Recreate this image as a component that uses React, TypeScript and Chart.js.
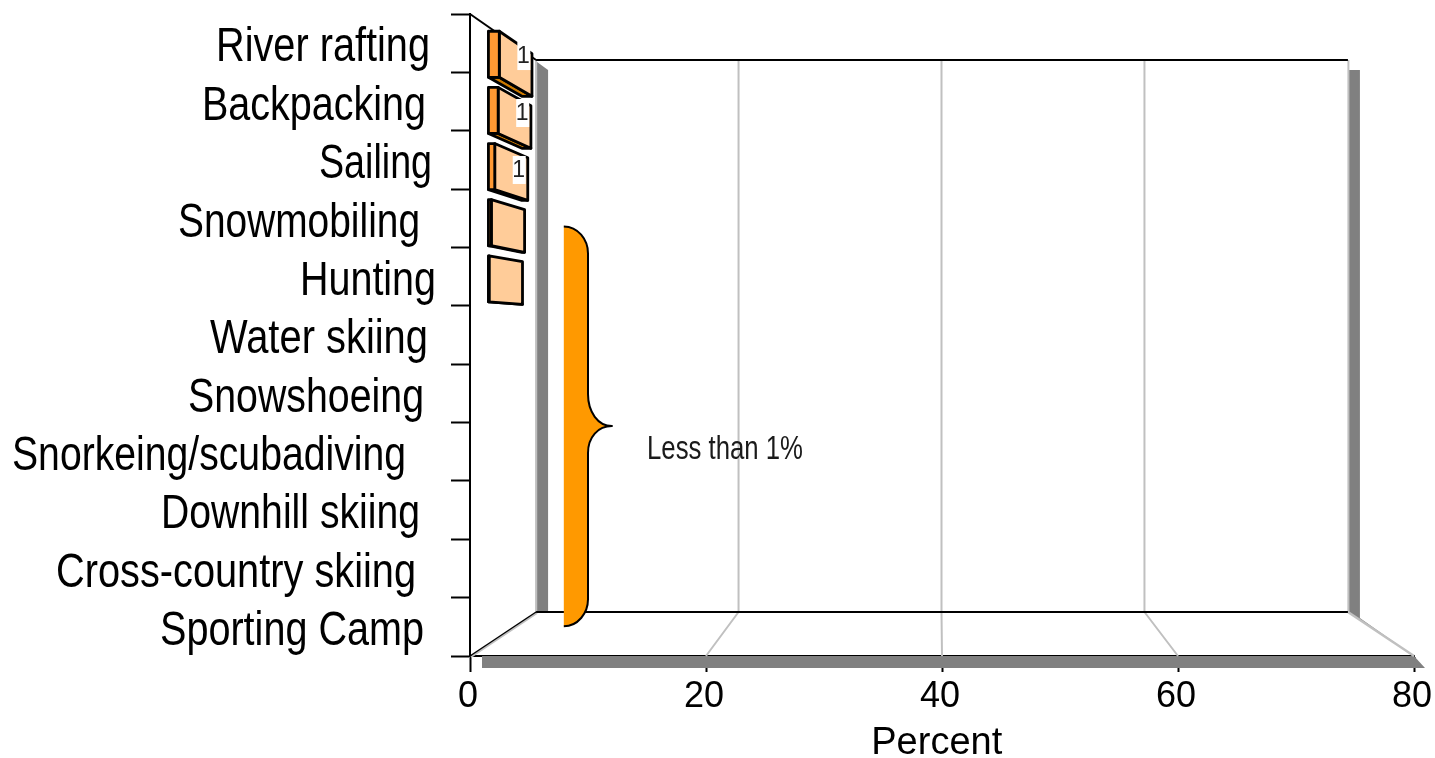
import React, { useEffect, useRef } from "react";
import { Chart, registerables } from "chart.js";

Chart.register(...registerables);

const categories = [
  "River rafting", "Backpacking", "Sailing", "Snowmobiling", "Hunting", "Water skiing",
  "Snowshoeing", "Snorkeing/scubadiving", "Downhill skiing", "Cross-country skiing", "Sporting Camp",
];
const percentValues = [1.0, 0.9, 0.6, 0.3, 0.1, 0, 0, 0, 0, 0, 0];
const xTickValues = [0, 20, 40, 60, 80];
const labelGaps = [40, 44, 38, 50, 34, 42, 46, 64, 50, 54, 46];
const labelWidths = [214, 224, 113, 242, 136, 218, 236, 394, 259, 360, 264];
const braceNote = "Less than 1%";
const axisTitle = "Percent";

const FONT = "'Liberation Sans', Arial, sans-serif";
const WALL_DEPTH = 0.86;
const BAR_FRONT = 0.962;
const BAR_BACK = 0.891;
const LABEL_DEPTH = 0.976;

const scenePlugin = {
  id: "scene",
  beforeDatasetsDraw(chart: any) {
    const { ctx, chartArea: a, scales } = chart;
    const x = scales.x;
    const vx = (a.left + a.right) / 2;
    const vy = (a.top + a.bottom) / 2;
    const bx = (p: number, s: number) => vx + (p - vx) * s;
    const by = (p: number, s: number) => vy + (p - vy) * s;
    const L = bx(a.left, WALL_DEPTH), R = bx(a.right, WALL_DEPTH);
    const T = Math.round(by(a.top, WALL_DEPTH)) + 1, B = Math.round(by(a.bottom, WALL_DEPTH)) + 1;
    ctx.save();
    const poly = (pts: number[][], fill: string) => {
      ctx.beginPath();
      pts.forEach((p, i) => (i ? ctx.lineTo(p[0], p[1]) : ctx.moveTo(p[0], p[1])));
      ctx.closePath();
      ctx.fillStyle = fill;
      ctx.fill();
    };
    const line = (pts: number[][], color: string, w: number) => {
      ctx.beginPath();
      pts.forEach((p, i) => (i ? ctx.lineTo(p[0], p[1]) : ctx.moveTo(p[0], p[1])));
      ctx.strokeStyle = color;
      ctx.lineWidth = w;
      ctx.stroke();
    };
    const dark = "#808080", light = "#C0C0C0";
    // drop shadows
    poly([[a.left + 12, a.bottom], [a.right, a.bottom], [a.right + 11, a.bottom + 12], [a.left + 12, a.bottom + 12]], dark);
    poly([[L + 1, T + 2], [L + 12, T + 10], [L + 12, B], [L + 1, B]], dark);
    poly([[R + 1, T + 10], [R + 12, T + 10], [R + 12, B + 6], [a.right, a.bottom], [R, B]], dark);
    // grid lines on the wall and the floor
    xTickValues.forEach((v) => {
      if (v === xTickValues[0] || v === xTickValues[xTickValues.length - 1]) return;
      const p = x.getPixelForValue(v);
      const q = bx(p, WALL_DEPTH) - 0.5;
      line([[q, T], [q, B], [p, a.bottom]], light, 2);
    });
    // wall edges
    line([[L, T], [L, B]], light, 2);
    line([[R + 0.5, T], [R + 0.5, B]], light, 2);
    line([[a.left + 1, a.bottom + 1], [L + 1, B + 1]], light, 2);
    line([[R, B], [a.right, a.bottom]], light, 2.5);
    line([[a.left, a.bottom], [L, B]], "#000", 1.5);
    line([[a.left, a.top], [L, T]], "#000", 2);
    line([[L, T], [R, T]], "#000", 2);
    line([[L, B], [R, B]], "#000", 2);
    ctx.restore();
  },
  afterDatasetsDraw(chart: any) {
    const { ctx, chartArea: a, scales } = chart;
    const x = scales.x, y = scales.y;
    const vx = (a.left + a.right) / 2;
    const vy = (a.top + a.bottom) / 2;
    const P = (px: number, py: number, s: number) => [vx + (px - vx) * s, vy + (py - vy) * s];
    ctx.save();
    const face = (pts: number[][], fill: string) => {
      ctx.beginPath();
      pts.forEach((p, i) => (i ? ctx.lineTo(p[0], p[1]) : ctx.moveTo(p[0], p[1])));
      ctx.closePath();
      ctx.fillStyle = fill;
      ctx.fill();
      ctx.strokeStyle = "#000";
      ctx.lineWidth = 2.8;
      ctx.lineJoin = "round";
      ctx.stroke();
    };
    const bars = chart.getDatasetMeta(0).data;
    bars.forEach((bar: any, i: number) => {
      if (percentValues[i] <= 0) return;
      const top = bar.y - bar.height / 2, bot = bar.y + bar.height / 2;
      const b0 = bar.base, v0 = bar.x;
      face([P(b0, bot, BAR_FRONT), P(v0, bot, BAR_FRONT), P(v0, bot, BAR_BACK), P(b0, bot, BAR_BACK)], "#CC7A00");
      face([P(v0, top, BAR_FRONT), P(v0, top, BAR_BACK), P(v0, bot, BAR_BACK), P(v0, bot, BAR_FRONT)], "#FFCC99");
      face([P(b0, top, BAR_FRONT), P(v0, top, BAR_FRONT), P(v0, bot, BAR_FRONT), P(b0, bot, BAR_FRONT)], "#FF9933");
    });
    // value labels on a white ground
    bars.forEach((bar: any, i: number) => {
      const shown = Math.round(percentValues[i]);
      if (!shown) return;
      const c = P(bar.x, bar.y + 6, LABEL_DEPTH);
      const cx = c[0] + 30.5;
      const cy = c[1];
      ctx.fillStyle = "#fff";
      ctx.fillRect(cx - 6, cy - 14, 13, 28);
      ctx.fillStyle = "#222";
      ctx.font = `23px ${FONT}`;
      ctx.textAlign = "center";
      ctx.textBaseline = "middle";
      ctx.fillText(String(shown), cx, cy + 1);
    });
    // brace annotation
    const bl = x.getPixelForValue(7.95), bm = x.getPixelForValue(10), bt = x.getPixelForValue(12.03);
    const yTop = y.getPixelForValue(3.14), yTip = y.getPixelForValue(6.56), yBot = y.getPixelForValue(9.99);
    const curve = 27;
    const bracePath = () => {
      ctx.beginPath();
      ctx.moveTo(bl, yTop);
      ctx.bezierCurveTo(bl + 14, yTop, bm, yTop + 13, bm, yTop + curve);
      ctx.lineTo(bm, yTip - 32);
      ctx.bezierCurveTo(bm, yTip - 14, bm + 10, yTip, bt, yTip);
      ctx.bezierCurveTo(bm + 10, yTip, bm, yTip + 11, bm, yTip + curve);
      ctx.lineTo(bm, yBot - curve);
      ctx.bezierCurveTo(bm, yBot - 13, bl + 14, yBot, bl, yBot);
    };
    bracePath();
    ctx.closePath();
    ctx.fillStyle = "#FF9900";
    ctx.fill();
    bracePath();
    ctx.strokeStyle = "#000";
    ctx.lineWidth = 2;
    ctx.stroke();
    // note beside the brace
    ctx.save();
    ctx.translate(647, 450);
    ctx.scale(0.78, 1);
    ctx.fillStyle = "#1a1a1a";
    ctx.font = `33px ${FONT}`;
    ctx.textAlign = "left";
    ctx.textBaseline = "middle";
    ctx.fillText(braceNote, 0, 0);
    ctx.restore();
    // category labels, condensed
    categories.forEach((label, i) => {
      ctx.save();
      ctx.font = `48px ${FONT}`;
      const sx = labelWidths[i] / ctx.measureText(label).width;
      ctx.translate(a.left - labelGaps[i], y.getPixelForTick(i) + 5);
      ctx.scale(sx, 1);
      ctx.fillStyle = "#000";
      ctx.textAlign = "right";
      ctx.textBaseline = "middle";
      ctx.fillText(label, 0, 0);
      ctx.restore();
    });
    ctx.restore();
  },
};

export default function App() {
  const ref = useRef<HTMLCanvasElement>(null);
  useEffect(() => {
    const chart = new Chart(ref.current as HTMLCanvasElement, {
      type: "bar",
      data: {
        labels: categories,
        datasets: [
          {
            data: percentValues,
            backgroundColor: "rgba(0,0,0,0)",
            borderWidth: 0,
            categoryPercentage: 0.82,
            barPercentage: 1,
          },
        ],
      },
      plugins: [scenePlugin],
      options: {
        indexAxis: "y",
        animation: false,
        responsive: false,
        devicePixelRatio: 1,
        layout: { padding: { top: 14, right: 21, left: 0, bottom: 0 } },
        plugins: { legend: { display: false }, tooltip: { enabled: false }, title: { display: false } },
        scales: {
          x: {
            type: "linear",
            min: 0,
            max: 80,
            afterBuildTicks: (s: any) => {
              s.ticks = xTickValues.map((value) => ({ value }));
            },
            afterFit: (s: any) => {
              s.height = 102;
              s.paddingLeft = 0;
              s.paddingRight = 0;
            },
            grid: { drawOnChartArea: false, drawTicks: true, tickLength: 16, tickColor: "#000", tickWidth: 2 },
            border: { display: true, color: "#000", width: 2 },
            ticks: {
              color: "#000",
              font: { family: FONT, size: 36 },
              padding: 3,
              maxRotation: 0,
              labelOffset: -2,
              autoSkip: false,
            },
            title: {
              display: true,
              text: axisTitle + " ",
              color: "#000",
              font: { family: FONT, size: 38 },
              padding: { top: 0, bottom: -8 },
            },
          },
          y: {
            type: "category",
            afterFit: (s: any) => {
              s.width = 470;
              s.paddingTop = 0;
              s.paddingBottom = 0;
            },
            grid: { drawOnChartArea: false, drawTicks: true, tickLength: 19, tickColor: "#000", tickWidth: 2 },
            border: { display: true, color: "#000", width: 2 },
            ticks: { display: false },
          },
        },
      },
    } as any);
    return () => chart.destroy();
  }, []);
  return (
    <canvas
      ref={ref}
      width={1435}
      height={758}
      style={{ position: "fixed", left: 0, top: 0, display: "block", width: 1435, height: 758, background: "#fff" }}
    />
  );
}
